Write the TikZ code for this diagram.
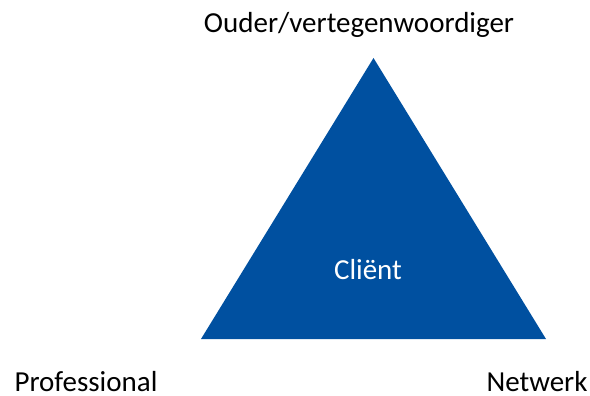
\documentclass[tikz,border=0pt]{standalone}
\usepackage{fontspec}
\setmainfont{Carlito}
\definecolor{clientblue}{HTML}{0050A0}
\tikzset{
  label text/.style={font=\fontsize{29}{32}\selectfont, text=black, inner sep=0pt},
}
\begin{document}
\begin{tikzpicture}[x=1pt,y=-1pt]
		\useasboundingbox (0,0) rectangle (590,396);
		%% Triangle corners
		\coordinate (top) at (373.5,58);
		\coordinate (left) at (201,339);
		\coordinate (right) at (546,339);
		\fill[clientblue] (top) -- (left) -- (right) -- cycle;

		% Labels
		\node[label text, text=white] (client) at (368,270) {Cliënt};
		\node[label text] (parent) at (359,25) {Ouder/vertegenwoordiger};
		\node[label text] (professional) at (86,382) {Professional};
		\node[label text] (network) at (537,382) {Netwerk};
	\end{tikzpicture}
\end{document}
